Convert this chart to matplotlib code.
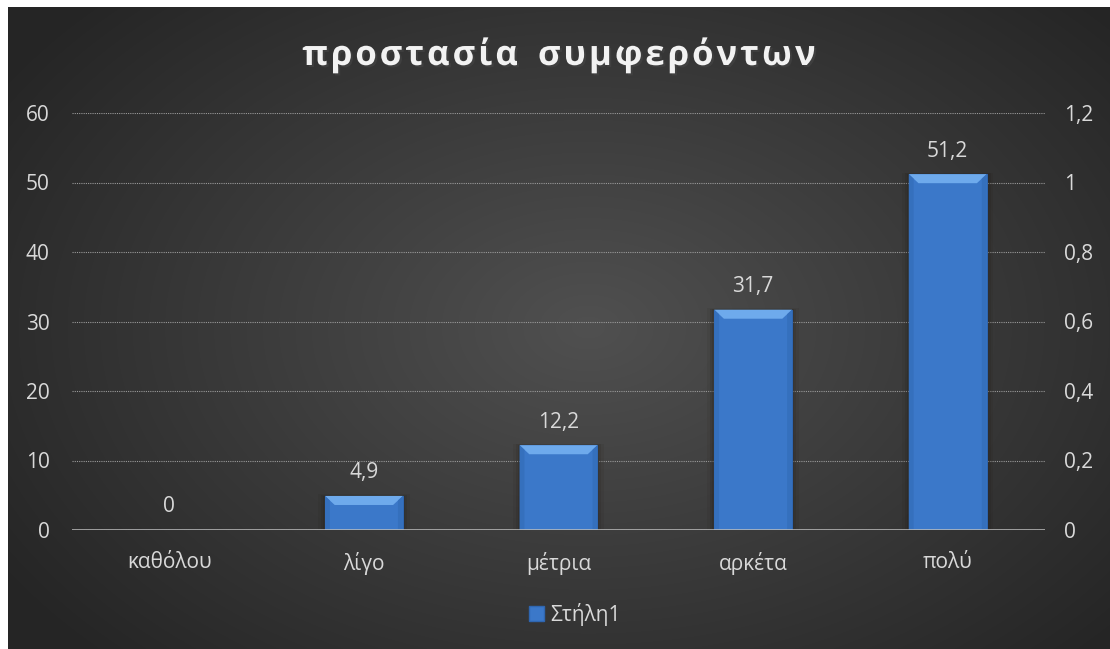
import numpy as np
import matplotlib.pyplot as plt
import matplotlib.patheffects as pe
from matplotlib.patches import Polygon, Patch

categories = ['καθόλου', 'λίγο', 'μέτρια', 'αρκέτα', 'πολύ']
values = [0, 4.9, 12.2, 31.7, 51.2]
value_labels = ['0', '4,9', '12,2', '31,7', '51,2']
left_ticks = [0, 10, 20, 30, 40, 50, 60]
right_ticks = [0, 0.2, 0.4, 0.6, 0.8, 1.0, 1.2]
right_labels = ['0', '0,2', '0,4', '0,6', '0,8', '1', '1,2']
title = 'προστασία συμφερόντων'
series_name = 'Στήλη1'

plt.rcParams['font.family'] = ['Open Sans', 'DejaVu Sans']
txt = '#d9d9d9'
blue = '#3b78c9'
fs = 15

fig = plt.figure(figsize=(11.1, 6.49), dpi=100, facecolor='white')

# dark radial background of the chart area
bg = fig.add_axes([8 / 1110, 0, 1 - 8 / 1110, 1 - 7 / 649], zorder=-5)
h, w = 642, 1102
yy, xx = np.mgrid[0:h, 0:w]
d = np.sqrt(((xx - 580) / 700) ** 2 + ((yy - 320) / 470) ** 2)
shade = 0x50 - (0x50 - 0x25) * np.clip(d, 0, 1)
bg.imshow(np.dstack([shade, shade, shade]) / 255, aspect='auto', interpolation='bilinear')
bg.axis('off')

ax = fig.add_axes([72 / 1110, 119 / 649, (1045 - 72) / 1110, (530 - 113) / 649])
ax.set_facecolor('none')
x = np.arange(len(categories))
bars = ax.bar(x, values, width=0.4, color=blue, zorder=3,
              edgecolor='#2f66b0', linewidth=0.8)
ax.set_xlim(-0.5, len(categories) - 0.5)
ax.set_ylim(0, 60)

# soft shadow and bevel on each bar
for b in bars:
    bx, by = b.get_x(), b.get_y()
    bw, bh = b.get_width(), b.get_height()
    if bh <= 0:
        continue
    for k, a in [(0.035, 0.07), (0.02, 0.1), (0.01, 0.12)]:
        ax.add_patch(plt.Rectangle((bx - k, by), bw + 2 * k, bh + k * 6,
                                   color='#1a1208', alpha=a, zorder=2, lw=0))
    bev = min(1.3, bh * 0.3)
    sx = 0.05
    ax.add_patch(Polygon([(bx, by + bh), (bx + bw, by + bh),
                          (bx + bw - sx, by + bh - bev), (bx + sx, by + bh - bev)],
                         closed=True, color='#6eaaec', zorder=4, lw=0))
    ax.add_patch(Polygon([(bx, by + bh), (bx + sx * 0.5, by + bh - bev * 0.5),
                          (bx + sx * 0.5, by), (bx, by)],
                         closed=True, color='#3570bd', zorder=4, lw=0))
    ax.add_patch(Polygon([(bx + bw, by + bh), (bx + bw - sx * 0.5, by + bh - bev * 0.5),
                          (bx + bw - sx * 0.5, by), (bx + bw, by)],
                         closed=True, color='#3570bd', zorder=4, lw=0))

for xi, v, lab in zip(x, values, value_labels):
    ax.annotate(lab, (xi, v), xytext=(0, 23), textcoords='offset pixels',
                ha='center', va='center', color=txt, fontsize=fs)

ax.set_yticks(left_ticks)
ax.set_yticklabels([str(t) for t in left_ticks])
ax.yaxis.grid(True, color='#9a9a9a', linestyle=(0, (1, 1)), linewidth=0.8, zorder=0)
ax.axhline(0, color='#bfbfbf', linewidth=1.8, zorder=5)
ax.set_xticks(x)
ax.set_xticklabels(categories)
ax.tick_params(axis='both', length=0, colors=txt, labelsize=fs)
ax.tick_params(axis='y', pad=16)
ax.tick_params(axis='x', pad=16)
for s in ax.spines.values():
    s.set_visible(False)

ax2 = ax.twinx()
ax2.set_ylim(0, 1.2)
ax2.set_yticks(right_ticks)
ax2.set_yticklabels(right_labels)
ax2.tick_params(axis='y', length=0, colors=txt, labelsize=fs, pad=14)
for s in ax2.spines.values():
    s.set_visible(False)

# spaced-out title, one character at a time
renderer = fig.canvas.get_renderer()
tkw = dict(color='#f2f2f2', fontsize=25, fontweight='bold', va='center', ha='left')
shadow = [pe.SimplePatchShadow(offset=(1.5, -1.5), alpha=0.5), pe.Normal()]
widths = []
for ch in title:
    t = fig.text(0, 0, ch if ch != ' ' else 'ι', **tkw)
    widths.append(t.get_window_extent(renderer).width)
    t.remove()
gap = 3.0
total = sum(widths) + gap * (len(title) - 1)
xpos = 559 - total / 2
for ch, cw in zip(title, widths):
    if ch != ' ':
        fig.text(xpos / 1110, 1 - 56 / 649, ch, path_effects=shadow, **tkw)
    xpos += cw + gap

fig.legend(handles=[Patch(facecolor=blue, edgecolor='#2f66b0')], labels=[series_name],
           loc='center', bbox_to_anchor=(0.518, 1 - 614 / 649), frameon=False,
           labelcolor=txt, fontsize=fs, handlelength=0.7, handleheight=0.7,
           handletextpad=0.3)

fig.savefig('out.png', dpi=100, facecolor=fig.get_facecolor())
